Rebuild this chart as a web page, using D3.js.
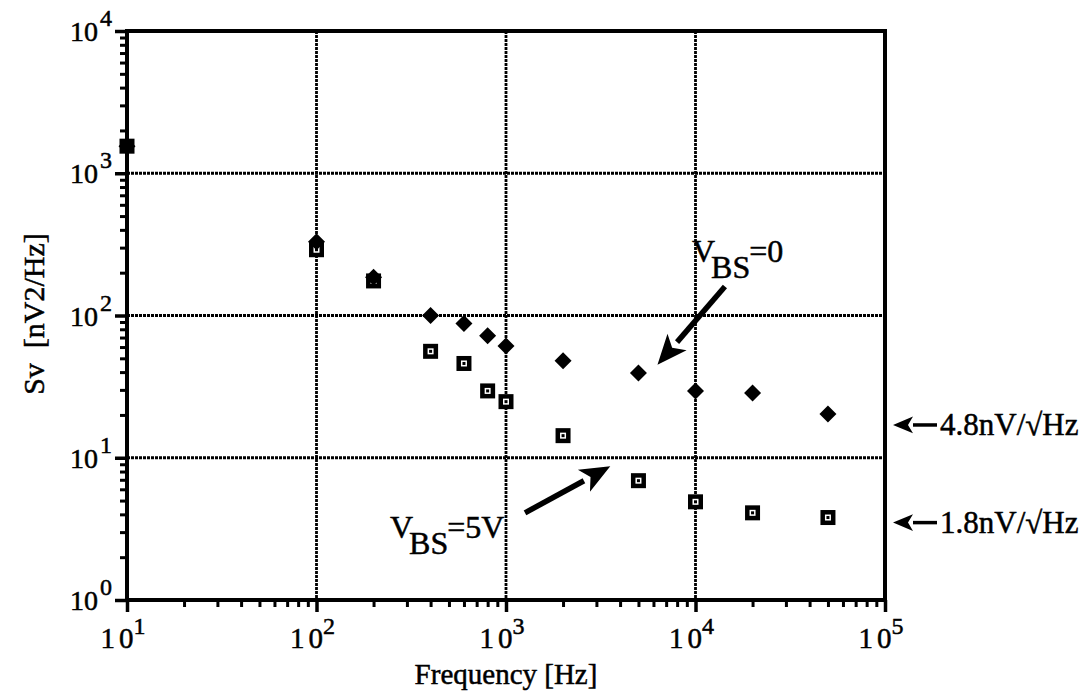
<!DOCTYPE html>
<html>
<head>
<meta charset="utf-8">
<script src="https://cdn.jsdelivr.net/npm/d3@7"></script>
<style>
	body { margin: 0; background: #fff; }
	svg { display: block; font-family: "Liberation Serif", "DejaVu Serif", serif; }
	svg text { fill: #000; stroke: #000; stroke-width: 0.5px; }
</style>
</head>
<body>
<svg width="1091" height="699"></svg>
<script>
// частоты измерений, Гц
const freqs = [10, 100, 200, 400, 600, 800, 1000, 2000, 5000, 10000, 20000, 50000];
// V_BS = 0 (ромбы)
const svZero = [1550, 330, 186, 100, 88, 72, 61, 48, 39.5, 29.5, 28.5, 20.3];
// V_BS = 5V (квадраты)
const svFive = [1550, 290, 175, 56, 46, 29.5, 24.8, 14.3, 6.9, 4.9, 4.1, 3.8];
const xTicks = [1e1, 1e2, 1e3, 1e4, 1e5];
const yTicks = [1e0, 1e1, 1e2, 1e3, 1e4];

let svg = d3.select("svg");
const area = { left: 127, right: 885, top: 31, bottom: 600 };

let scaleX = d3.scaleLog().domain([1e1, 1e5]).range([area.left, area.right]);
let scaleY = d3.scaleLog().domain([1e0, 1e4]).range([area.bottom, area.top]);

// промежуточные деления
function minors(lo, hi) {
	let arr = [];
	for (let d = lo; d < hi; d *= 10)
		for (let k = 2; k <= 9; k++) arr.push(d * k);
	return arr;
}

// сетка (пунктир)
svg.append("g").selectAll("line")
	.data(xTicks.slice(1, -1))
	.enter().append("line")
	.attr("x1", d => scaleX(d)).attr("x2", d => scaleX(d))
	.attr("y1", area.top).attr("y2", area.bottom)
	.style("stroke", "#000").style("stroke-width", 2.8).style("stroke-dasharray", "3,1");
svg.append("g").selectAll("line")
	.data(yTicks.slice(1, -1))
	.enter().append("line")
	.attr("y1", d => scaleY(d)).attr("y2", d => scaleY(d))
	.attr("x1", area.left).attr("x2", area.right)
	.style("stroke", "#000").style("stroke-width", 2.8).style("stroke-dasharray", "3,1");

// оси
svg.append("g")
	.attr("transform", `translate(0,${area.bottom})`)
	.call(d3.axisBottom(scaleX).tickValues(minors(1e1, 1e5)).tickSize(7).tickFormat(""))
	.call(g => g.select(".domain").remove())
	.selectAll("line").style("stroke-width", 3);
svg.append("g")
	.attr("transform", `translate(0,${area.bottom})`)
	.call(d3.axisBottom(scaleX).tickValues(xTicks).tickSize(12).tickFormat(""))
	.call(g => g.select(".domain").remove())
	.selectAll("line").style("stroke-width", 3.5);
svg.append("g")
	.attr("transform", `translate(${area.left},0)`)
	.call(d3.axisLeft(scaleY).tickValues(minors(1e0, 1e4)).tickSize(7).tickFormat(""))
	.call(g => g.select(".domain").remove())
	.selectAll("line").style("stroke-width", 3);
svg.append("g")
	.attr("transform", `translate(${area.left},0)`)
	.call(d3.axisLeft(scaleY).tickValues(yTicks).tickSize(12).tickFormat(""))
	.call(g => g.select(".domain").remove())
	.selectAll("line").style("stroke-width", 3.5);

// рамка
svg.append("rect")
	.attr("x", area.left).attr("y", area.top)
	.attr("width", area.right - area.left).attr("height", area.bottom - area.top)
	.style("fill", "none").style("stroke", "#000").style("stroke-width", 4);

// подписи делений
let xl = svg.append("g").selectAll("text")
	.data(xTicks).enter().append("text")
	.attr("x", d => scaleX(d) - 4).attr("y", 648)
	.attr("text-anchor", "middle")
	.style("font-size", "29px");
xl.append("tspan").text("1");
xl.append("tspan").text("0").attr("dx", 4);
xl.append("tspan").text(d => Math.round(Math.log10(d))).attr("dy", -14).style("font-size", "24px");

let yl = svg.append("g").selectAll("text")
	.data(yTicks).enter().append("text")
	.attr("x", 112).attr("y", d => scaleY(d) + 10)
	.attr("text-anchor", "end")
	.style("font-size", "28px");
yl.append("tspan").text("10");
yl.append("tspan").text(d => Math.round(Math.log10(d))).attr("dy", -15).attr("dx", 2).style("font-size", "24px");

// названия осей
svg.append("text")
	.attr("x", 506).attr("y", 684)
	.attr("text-anchor", "middle")
	.style("font-size", "29px")
	.text("Frequency [Hz]");
svg.append("text")
	.attr("transform", "translate(44,314) rotate(-90)")
	.attr("text-anchor", "middle")
	.attr("xml:space", "preserve")
	.style("font-size", "30px")
	.text("Sv  [nV2/Hz]");

// квадраты V_BS=5V
let sq = svg.append("g").selectAll("g")
	.data(freqs.map((f, i) => ({ f: f, v: svFive[i] })))
	.enter().append("g")
	.attr("transform", d => `translate(${scaleX(d.f)},${scaleY(d.v)})`);
sq.append("rect").attr("x", -7.5).attr("y", -7.5).attr("width", 15).attr("height", 15).style("fill", "#000");
sq.append("rect").attr("x", -3).attr("y", -3).attr("width", 6).attr("height", 6).style("fill", "#fff");
sq.append("rect").attr("x", -1.5).attr("y", -1.5).attr("width", 3).attr("height", 3).style("fill", "#000");

// ромбы V_BS=0
svg.append("g").selectAll("path")
	.data(freqs.map((f, i) => ({ f: f, v: svZero[i] })))
	.enter().append("path")
	.attr("d", "M0,-8.5L8.5,0L0,8.5L-8.5,0Z")
	.attr("transform", d => `translate(${scaleX(d.f)},${scaleY(d.v)})`)
	.style("fill", "#000");

// стрелки-аннотации
function arrow(x1, y1, x2, y2, head, w) {
	const ang = Math.atan2(y2 - y1, x2 - x1);
	const bx = x2 - head * Math.cos(ang), by = y2 - head * Math.sin(ang);
	svg.append("line")
		.attr("x1", x1).attr("y1", y1).attr("x2", bx).attr("y2", by)
		.style("stroke", "#000").style("stroke-width", w);
	const px = -Math.sin(ang) * head * 0.42, py = Math.cos(ang) * head * 0.42;
	svg.append("path")
		.attr("d", `M${x2},${y2}L${bx + px},${by + py}L${bx + head * 0.25 * Math.cos(ang)},${by + head * 0.25 * Math.sin(ang)}L${bx - px},${by - py}Z`)
		.style("fill", "#000");
}
arrow(scaleX(14300), scaleY(160), scaleX(6300), scaleY(45), 30, 5.5);
arrow(scaleX(1260), scaleY(4.1), scaleX(3550), scaleY(8.7), 30, 5.5);

// подписи V_BS
function vbs(x, y, rest) {
	let t = svg.append("text").attr("x", x).attr("y", y).style("font-size", "32px");
	t.append("tspan").text("V");
	t.append("tspan").text("BS").attr("dy", 16).attr("dx", -4);
	t.append("tspan").text(rest).attr("dy", -16).attr("dx", -1);
}
vbs(692, 262, "=0");
vbs(390, 538, "=5V");

// уровни шума справа
const levels = [{ v: 17, label: "4.8nV/\u221AHz" }, { v: 3.5, label: "1.8nV/\u221AHz" }];
levels.forEach(l => {
	const y = scaleY(l.v);
	arrow(937, y, 893, y, 20, 3.5);
	svg.append("text").attr("x", 940).attr("y", y + 10)
		.style("font-size", "31px").text(l.label);
});
</script>
</body>
</html>
